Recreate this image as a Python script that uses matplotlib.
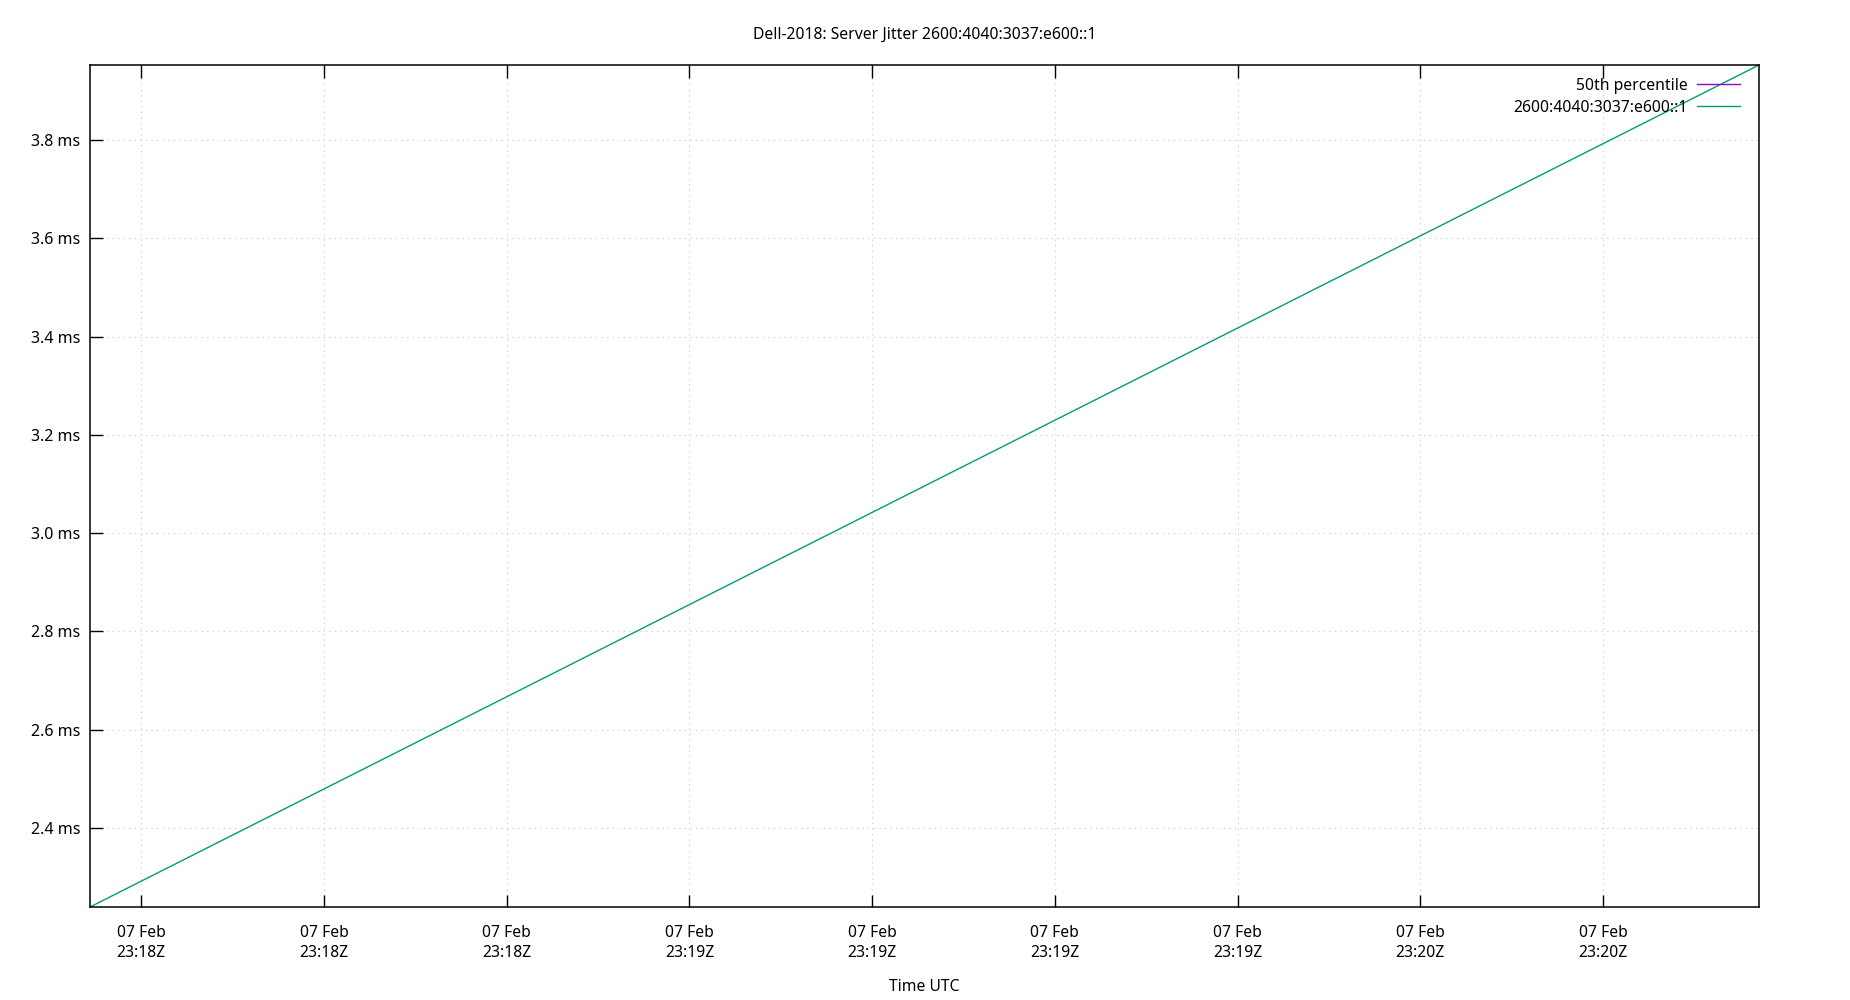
import matplotlib
matplotlib.use("Agg")
import matplotlib.pyplot as plt
import matplotlib.dates as mdates
import matplotlib.ticker as mticker
import numpy as np
import pandas as pd

plt.rcParams['font.family'] = ['Noto Sans', 'DejaVu Sans']

# jitter samples (two points, start and end of window)
times = pd.to_datetime(["2024-02-07 23:18:10.8", "2024-02-07 23:20:27.8"])
jitter_ms = [2.239, 3.953]
tick_times = pd.date_range("2024-02-07 23:18:15", periods=9, freq="15s")
y_ticks = [2.4, 2.6, 2.8, 3.0, 3.2, 3.4, 3.6, 3.8]

fig = plt.figure(figsize=(18.5, 10), dpi=100)
ax = fig.add_axes([90/1850, 93/1000, (1759-90)/1850, (907-65)/1000])

# 50th percentile has no visible data, keep it for the key
ax.plot([], [], color="#9400d3", lw=1, label="50th percentile")
ax.plot(times, jitter_ms, color="#009e73", lw=1.0, label="2600:4040:3037:e600::1")

ax.set_xlim(times[0], times[-1])
ax.set_ylim(jitter_ms[0], jitter_ms[-1])

ax.set_xticks(tick_times)
ax.xaxis.set_major_formatter(mdates.DateFormatter("%d %b\n%H:%MZ"))
ax.set_yticks(y_ticks)
ax.yaxis.set_major_formatter(mticker.FuncFormatter(lambda v, p: f"{v:.1f} ms"))

ax.tick_params(axis="x", direction="in", length=9, width=1, top=True,
               labelsize=11.3, pad=13)
ax.tick_params(axis="y", direction="in", length=9, width=1, labelsize=11.5, pad=7)
for lbl in ax.get_xticklabels():
    lbl.set_horizontalalignment("center")
    lbl.set_linespacing(1.35)

ax.grid(True, color="#c8c8c8", linestyle=(0, (1, 4)), lw=0.8)
for s in ax.spines.values():
    s.set_linewidth(1.1)

ax.set_title("Dell-2018: Server Jitter 2600:4040:3037:e600::1", fontsize=11.3, pad=19)
ax.set_xlabel("Time UTC", fontsize=11.3, labelpad=13)

ax.legend(loc="upper right", frameon=False, markerfirst=False, fontsize=11.3,
          handlelength=2.7, handletextpad=0.6, labelspacing=0.4,
          borderaxespad=0.3, bbox_to_anchor=(0.995, 0.998))

fig.savefig("out.png", dpi=100)
